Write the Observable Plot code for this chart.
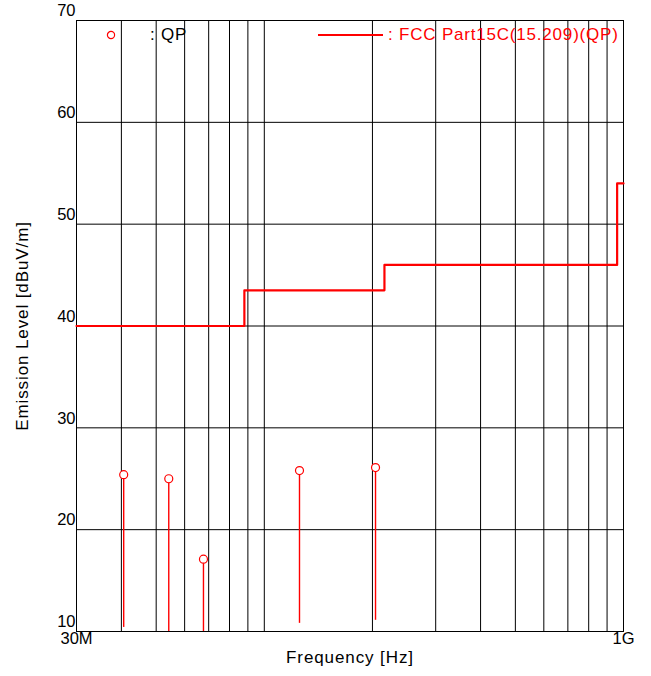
<!DOCTYPE html>
<html><head><meta charset="utf-8">
<script src="https://cdn.jsdelivr.net/npm/d3@7"></script>
<script src="https://cdn.jsdelivr.net/npm/@observablehq/plot@0.6"></script>
<style>
body{margin:0;background:#fff;font-family:"Liberation Sans",Arial,sans-serif}
#wrap{position:relative;width:651px;height:676px}
.leg{position:absolute;font-size:17px;line-height:20px;white-space:nowrap}
</style></head><body><div id="wrap"></div>
<script>
// Data (frequency in MHz, level in dBuV/m)
const freqMHz   = [40.6, 54.2, 67.7, 125.3, 204.0];
const qpLevel   = [25.4, 25.0, 17.1, 25.8, 26.1];
const stemBase  = [10.4, 10.0, 10.0, 10.8, 11.1];
const limitFreq = [30, 88, 88, 216, 216, 960, 960, 1000];
const limitLevel= [40, 40, 43.5, 43.5, 46, 46, 54, 54];
const gridFreq  = [40,50,60,70,80,90,100,200,300,400,500,600,700,800,900];
const yTicks    = [10,20,30,40,50,60,70];
const xTickFreq = [30, 1000];
const xTickText = ["30M", "1G"];
const yTitle    = "Emission Level [dBuV/m]";
const xTitle    = "Frequency [Hz]";
const legendQP  = ": QP";
const legendLim = ": FCC Part15C(15.209)(QP)";

const points = freqMHz.map((f,i)=>({f, level: qpLevel[i], base: stemBase[i]}));
const limit = limitFreq.map((f,i)=>({f, level: limitLevel[i]}));
const xLabels = xTickFreq.map((f,i)=>({f, label: xTickText[i]}));

const chart = Plot.plot({
  width: 651, height: 676,
  marginLeft: 76, marginRight: 28, marginTop: 20, marginBottom: 45,
  x: {type: "log", domain: [30, 1000], axis: null},
  y: {domain: [10, 70], axis: null},
  style: {fontFamily: '"Liberation Sans", Arial, sans-serif', fontSize: "17px", color: "#000", background: "#fff", overflow: "visible"},
  marks: [
    Plot.ruleX(gridFreq, {x: d=>d, stroke: "#000", strokeWidth: 1}),
    Plot.ruleY(yTicks.slice(1, -1), {y: d=>d, stroke: "#000", strokeWidth: 1}),
    Plot.frame({stroke: "#000", strokeWidth: 1}),
    Plot.line(limit, {x: "f", y: "level", stroke: "#ff0000", strokeWidth: 2.2, curve: "linear"}),
    Plot.ruleX(points, {x: "f", y1: "base", y2: "level", stroke: "#ff0000", strokeWidth: 1.4}),
    Plot.dot(points, {x: "f", y: "level", r: 4, stroke: "#ff0000", fill: "#fff", strokeWidth: 1.2}),
    Plot.text(yTicks, {y: d=>d, text: d=>String(d), frameAnchor: "left", textAnchor: "end", dx: -1, dy: -9.5, fontSize: 16.5, fill: "#000"}),
    Plot.text(xLabels, {x: "f", text: "label", frameAnchor: "bottom", textAnchor: "middle", dy: 12, fontSize: 16.5, fill: "#000"}),
    Plot.text([yTitle], {frameAnchor: "left", textAnchor: "middle", rotate: -90, dx: -54, fontSize: 17, fill: "#000"}),
    Plot.text([xTitle], {frameAnchor: "bottom", textAnchor: "middle", dy: 31, fontSize: 17, fill: "#000"})
  ]
});
// widen axis titles to match reference glyph widths
d3.select(chart).selectAll("text").filter(function(){ const t = this.textContent; return t === yTitle || t === xTitle; })
  .attr("letter-spacing", "0.9px");
const wrap = document.getElementById("wrap");
wrap.appendChild(chart);

// Legend overlay
const l1 = document.createElement("div");
l1.className = "leg";
l1.style.left = "106px"; l1.style.top = "25px";
l1.innerHTML = '<svg width="10" height="10" style="position:absolute;left:0;top:5px"><circle cx="5" cy="5" r="3.6" fill="#fff" stroke="#ff0000" stroke-width="1.2"/></svg><span style="position:absolute;left:44px;top:0;letter-spacing:0.8px">' + legendQP + '</span>';
wrap.appendChild(l1);
const l2 = document.createElement("div");
l2.className = "leg";
l2.style.left = "318px"; l2.style.top = "25px";
l2.innerHTML = '<div style="position:absolute;left:0;top:9px;width:65px;height:2px;background:#ff0000"></div><span style="position:absolute;left:70px;top:0;color:#ff0000;letter-spacing:0.8px">' + legendLim + '</span>';
wrap.appendChild(l2);
</script>
</body></html>
